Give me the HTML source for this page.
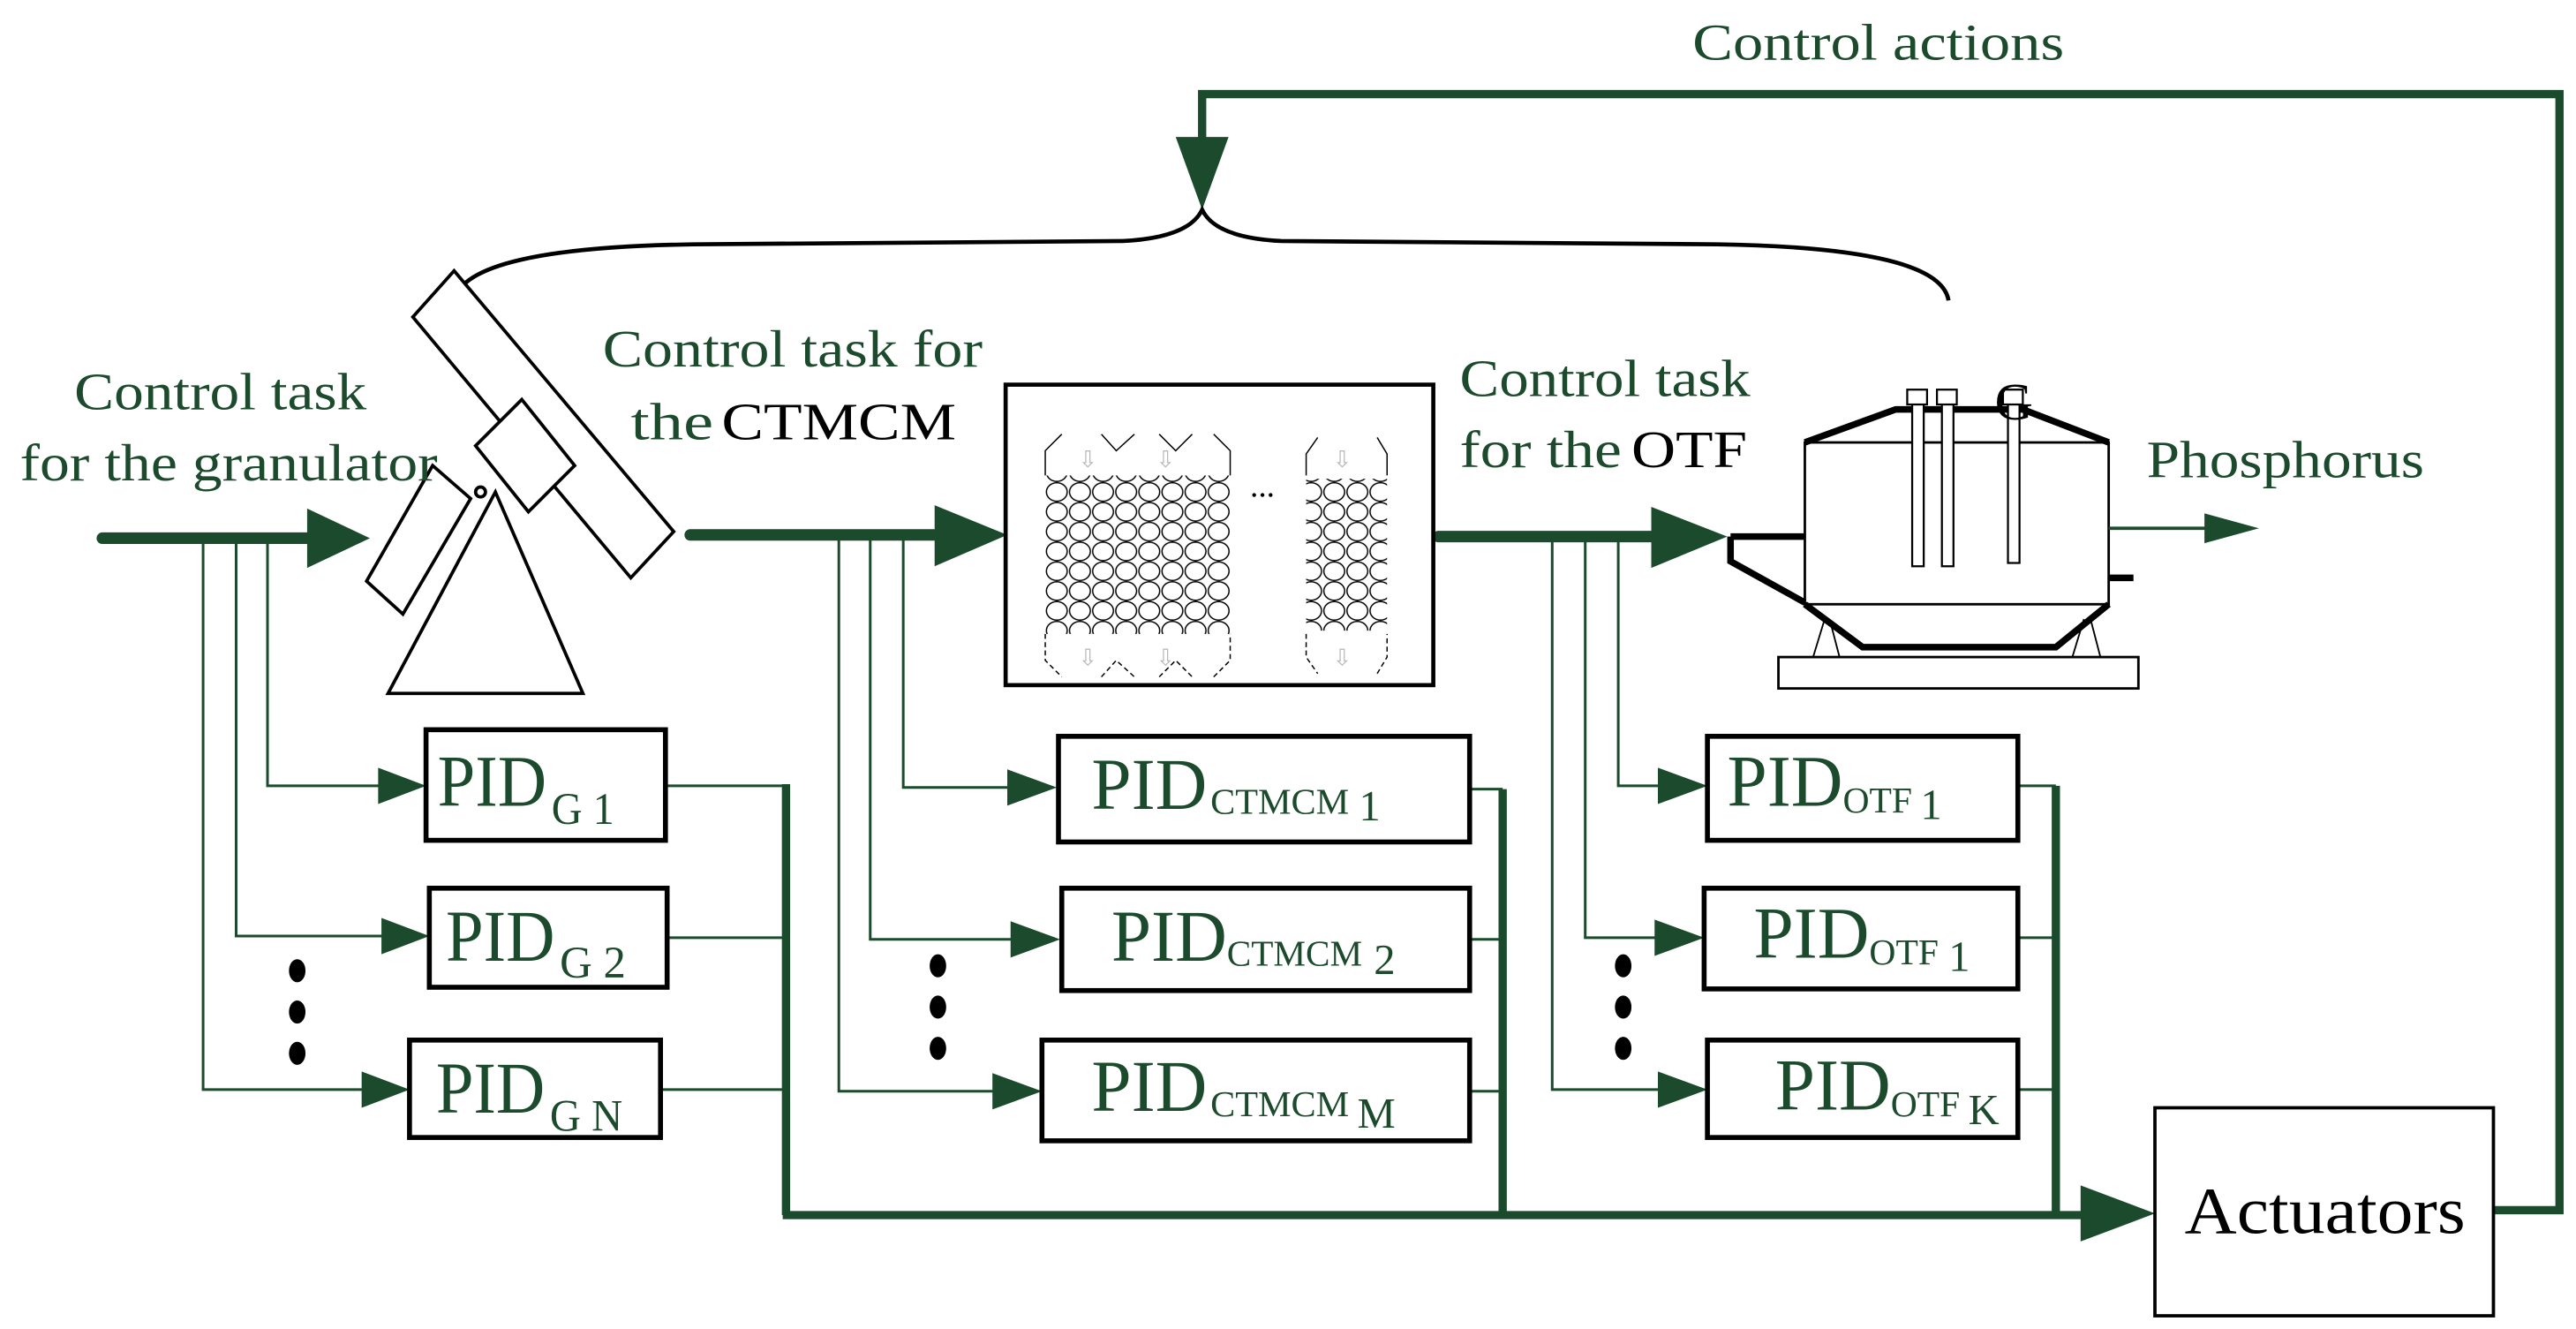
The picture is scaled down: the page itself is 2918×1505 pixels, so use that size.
<!DOCTYPE html>
<html><head><meta charset="utf-8"><style>
html,body{margin:0;padding:0;background:#fff;}
svg{display:block;}
text{font-family:"Liberation Serif",serif;}
</style></head><body>
<svg width="2918" height="1505" viewBox="0 0 1560 805" preserveAspectRatio="none" xmlns="http://www.w3.org/2000/svg">
<defs>
<pattern id="balls" x="633" y="268" width="14" height="12" patternUnits="userSpaceOnUse">
<ellipse cx="7" cy="6" rx="6.3" ry="5.6" fill="none" stroke="#000" stroke-width="0.8"/>
</pattern>
</defs>
<g fill="#1c4a2c" stroke="none">
<text x="1025" y="36" font-size="31" textLength="225" lengthAdjust="spacingAndGlyphs">Control actions</text>
</g>
<polyline points="1510,733 1550,733 1550,57 728,57 728,95" fill="none" stroke="#1c4a2c" stroke-width="5"/>
<polygon points="712,83 744,83 728,127" fill="#1c4a2c"/>
<path d="M275,182 Q282,150 420,148 L680,146 Q720,144 728,127 Q736,144 776,146 L1040,148 Q1175,150 1180,182" fill="none" stroke="#000" stroke-width="2.5"/>

<g stroke="#1c4a2c" stroke-width="7" stroke-linecap="round">
<line x1="62" y1="326" x2="190" y2="326"/>
<line x1="418" y1="324" x2="570" y2="324"/>
<line x1="871" y1="325" x2="1005" y2="325"/>
</g>
<g fill="#1c4a2c">
<polygon points="186,308 224,326 186,344"/>
<polygon points="566,306 610,324 566,343"/>
<polygon points="1000,307 1046,325 1000,344"/>
</g>

<g fill="#fff" stroke="#000" stroke-width="2">
<polygon points="222,352 262,282 285,302 244,372"/>
<polygon points="235,420 353,420 300,298"/>
<polygon points="250,192 275,164 408,322 382,350"/>
<polygon points="288,270 316,242 348,282 320,310"/>
<circle cx="291" cy="298" r="3"/>
</g>
<g fill="#1c4a2c">
<text x="45" y="248" font-size="32" textLength="177" lengthAdjust="spacingAndGlyphs">Control task</text>
<text x="12" y="291" font-size="32" textLength="253" lengthAdjust="spacingAndGlyphs">for the granulator</text>
<text x="365" y="222" font-size="32" textLength="230" lengthAdjust="spacingAndGlyphs">Control task for</text>
<text x="382" y="266" font-size="32" textLength="50" lengthAdjust="spacingAndGlyphs">the</text>
<text x="884" y="240" font-size="32" textLength="176" lengthAdjust="spacingAndGlyphs">Control task</text>
<text x="884" y="283" font-size="32" textLength="98" lengthAdjust="spacingAndGlyphs">for the</text>
<text x="1300" y="289" font-size="32" textLength="168" lengthAdjust="spacingAndGlyphs">Phosphorus</text>
</g>
<g fill="#000">
<text x="437" y="266" font-size="32" textLength="142" lengthAdjust="spacingAndGlyphs">CTMCM</text>
<text x="988" y="283" font-size="32" textLength="70" lengthAdjust="spacingAndGlyphs">OTF</text>
</g>

<rect x="609" y="233" width="259" height="182" fill="#fff" stroke="#000" stroke-width="2.5"/>
<g fill="none" stroke="#000" stroke-width="0.8">
<rect x="633" y="288" width="112" height="96" fill="url(#balls)" stroke="none"/>
<rect x="791" y="290" width="49" height="92" fill="url(#balls)" stroke="none"/>
<path d="M633,288 L633,273 L643,263 M667,263 L676,273 L687,263 M702,263 L712,273 L722,263 M735,263 L745,273 L745,288"/>
<path d="M791,288 L791,275 L798,265 M834,265 L840,275 L840,288"/>
<path d="M633,384 L633,400 L643,410 M667,410 L676,400 L687,410 M702,410 L712,400 L722,410 M735,410 L745,400 L745,384" stroke-dasharray="3,2"/>
<path d="M791,384 L791,398 L798,408 M834,408 L840,398 L840,384" stroke-dasharray="3,2"/>
</g>
<g fill="#bbb" font-size="14"><text x="653" y="283">⇩</text><text x="700" y="283">⇩</text><text x="807" y="283">⇩</text>
<text x="653" y="403">⇩</text><text x="700" y="403">⇩</text><text x="807" y="403">⇩</text></g>
<text x="757" y="301" font-size="20" fill="#000">...</text>

<g fill="none" stroke="#000">
<rect x="1093" y="268" width="184" height="98" stroke-width="1.5"/>
<polyline points="1093,268 1148,248 1225,248 1277,268" stroke-width="4"/>
<polyline points="1048,325 1093,325" stroke-width="4"/>
<polyline points="1048,325 1048,340 1093,365" stroke-width="4"/>
<polyline points="1093,366 1128,392 1245,392 1277,366" stroke-width="4"/>
<line x1="1277" y1="350" x2="1292" y2="350" stroke-width="4"/>
<path d="M1105,375 L1098,398 M1108,375 L1114,398 M1262,375 L1255,398 M1266,375 L1272,398" stroke-width="1"/>
<rect x="1077" y="398" width="218" height="19" stroke-width="1.5" fill="#fff"/>
<g stroke-width="1.2" fill="#fff">
<rect x="1158" y="243" width="7" height="100"/><rect x="1176" y="243" width="7" height="100"/><rect x="1216" y="243" width="7" height="98"/>
<rect x="1155" y="236" width="12" height="9"/><rect x="1173" y="236" width="12" height="9"/><rect x="1213" y="236" width="12" height="9"/>
</g>
</g>
<text x="1208" y="254" font-size="32" fill="#000">G</text>
<line x1="1277" y1="320" x2="1340" y2="320" stroke="#1c4a2c" stroke-width="2"/>
<polygon points="1335,311 1368,320 1335,329" fill="#1c4a2c"/>

<g fill="none" stroke="#1c4a2c" stroke-width="1.6">
<polyline points="162,326 162,476 230,476"/>
<polyline points="143,326 143,567 232,567"/>
<polyline points="123,326 123,660 220,660"/>
<polyline points="547,324 547,477 612,477"/>
<polyline points="527,324 527,569 614,569"/>
<polyline points="508,324 508,661 604,661"/>
<polyline points="980,325 980,476 1006,476"/>
<polyline points="960,325 960,568 1004,568"/>
<polyline points="940,325 940,660 1006,660"/>
<line x1="403" y1="476" x2="476" y2="476"/><line x1="404" y1="568" x2="476" y2="568"/><line x1="400" y1="660" x2="476" y2="660"/>
<line x1="890" y1="478" x2="910" y2="478"/><line x1="890" y1="569" x2="910" y2="569"/><line x1="890" y1="661" x2="910" y2="661"/>
<line x1="1222" y1="476" x2="1245" y2="476"/><line x1="1222" y1="568" x2="1245" y2="568"/><line x1="1222" y1="660" x2="1245" y2="660"/>
</g>
<g fill="#1c4a2c">
<polygon points="229,465 258,476 229,487"/><polygon points="231,556 260,567 231,578"/><polygon points="219,649 248,660 219,671"/>
<polygon points="610,466 640,477 610,488"/><polygon points="612,558 642,569 612,580"/><polygon points="601,650 631,661 601,672"/>
<polygon points="1004,465 1034,476 1004,487"/><polygon points="1002,557 1032,568 1002,579"/><polygon points="1004,649 1034,660 1004,671"/>
</g>
<g stroke="#1c4a2c" stroke-width="5" fill="none">
<line x1="476" y1="475" x2="476" y2="736"/>
<line x1="910" y1="478" x2="910" y2="736"/>
<line x1="1245" y1="476" x2="1245" y2="736"/>
<line x1="474" y1="736" x2="1265" y2="736"/>
</g>
<polygon points="1260,718 1305,735 1260,752" fill="#1c4a2c"/>
<g fill="#000">
<ellipse cx="180" cy="588" rx="5" ry="7"/><ellipse cx="180" cy="613" rx="5" ry="7"/><ellipse cx="180" cy="638" rx="5" ry="7"/>
<ellipse cx="568" cy="585" rx="5" ry="7"/><ellipse cx="568" cy="610" rx="5" ry="7"/><ellipse cx="568" cy="635" rx="5" ry="7"/>
<ellipse cx="983" cy="585" rx="5" ry="7"/><ellipse cx="983" cy="610" rx="5" ry="7"/><ellipse cx="983" cy="635" rx="5" ry="7"/>
</g>
<g fill="#fff" stroke="#000" stroke-width="3">
<rect x="258" y="442" width="145" height="67"/><rect x="260" y="538" width="144" height="60"/><rect x="248" y="630" width="152" height="59"/>
<rect x="641" y="446" width="249" height="64"/><rect x="643" y="538" width="247" height="62"/><rect x="631" y="630" width="259" height="61"/>
<rect x="1034" y="446" width="188" height="63"/><rect x="1032" y="538" width="190" height="61"/><rect x="1034" y="630" width="188" height="59"/>
</g>
<g fill="#1c4a2c">
<text x="265" y="488" font-size="44" textLength="66" lengthAdjust="spacingAndGlyphs">PID</text>
<text x="334" y="499" font-size="27" textLength="38" lengthAdjust="spacingAndGlyphs">G 1</text>
<text x="270" y="582" font-size="44" textLength="66" lengthAdjust="spacingAndGlyphs">PID</text>
<text x="339" y="592" font-size="27" textLength="40" lengthAdjust="spacingAndGlyphs">G 2</text>
<text x="264" y="674" font-size="44" textLength="66" lengthAdjust="spacingAndGlyphs">PID</text>
<text x="333" y="685" font-size="27" textLength="44" lengthAdjust="spacingAndGlyphs">G N</text>
<text x="661" y="490" font-size="44" textLength="70" lengthAdjust="spacingAndGlyphs">PID</text>
<text x="733" y="493" font-size="22" textLength="84" lengthAdjust="spacingAndGlyphs">CTMCM</text>
<text x="823" y="497" font-size="26">1</text>
<text x="673" y="582" font-size="44" textLength="70" lengthAdjust="spacingAndGlyphs">PID</text>
<text x="743" y="585" font-size="22" textLength="82" lengthAdjust="spacingAndGlyphs">CTMCM</text>
<text x="832" y="590" font-size="26">2</text>
<text x="661" y="673" font-size="44" textLength="70" lengthAdjust="spacingAndGlyphs">PID</text>
<text x="733" y="676" font-size="22" textLength="84" lengthAdjust="spacingAndGlyphs">CTMCM</text>
<text x="822" y="683" font-size="26">M</text>
<text x="1046" y="488" font-size="44" textLength="70" lengthAdjust="spacingAndGlyphs">PID</text>
<text x="1116" y="492" font-size="22" textLength="42" lengthAdjust="spacingAndGlyphs">OTF</text>
<text x="1163" y="496" font-size="26">1</text>
<text x="1062" y="580" font-size="44" textLength="70" lengthAdjust="spacingAndGlyphs">PID</text>
<text x="1132" y="584" font-size="22" textLength="42" lengthAdjust="spacingAndGlyphs">OTF</text>
<text x="1180" y="588" font-size="26">1</text>
<text x="1075" y="672" font-size="44" textLength="70" lengthAdjust="spacingAndGlyphs">PID</text>
<text x="1145" y="676" font-size="22" textLength="42" lengthAdjust="spacingAndGlyphs">OTF</text>
<text x="1192" y="681" font-size="26">K</text>
</g>
<rect x="1305" y="671" width="205" height="126" fill="#fff" stroke="#000" stroke-width="2"/>
<text x="1323" y="747" font-size="40" fill="#000" textLength="170" lengthAdjust="spacingAndGlyphs">Actuators</text>
</svg>
</body></html>
